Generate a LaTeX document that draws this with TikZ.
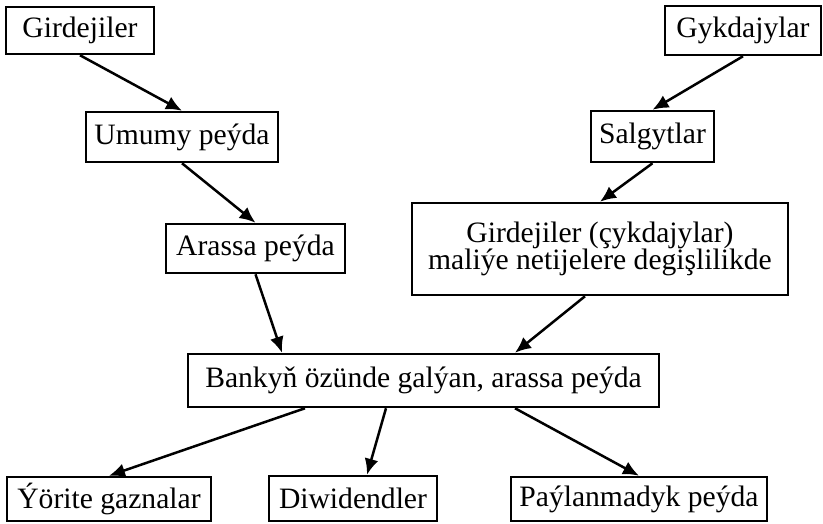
\documentclass[tikz,border=0pt]{standalone}
\usepackage{fontspec}
\setmainfont{Liberation Serif}
\usetikzlibrary{arrows.meta}

\begin{document}
\begin{tikzpicture}[x = 1pt, y = -1pt, line width = 2.5pt,
		box/.style = {draw, inner sep = 0pt, align = center, font = \fontsize{29.6}{27}\selectfont},
		arr/.style = {-{Latex[length = 16pt, width = 14pt]}}]
		\useasboundingbox (0,0) rectangle (823,523);
		% upper boxes
		\node[box, minimum width = 148pt, minimum height = 47pt] (gir) at (80,30.5) {Girdejiler};
		\node[box, minimum width = 156pt, minimum height = 49pt] (gyk) at (743,30.5) {Gykdajylar};
		\node[box, minimum width = 192pt, minimum height = 50pt] (umumy) at (182,137) {Umumy peýda};
		\node[box, minimum width = 123pt, minimum height = 51pt] (salg) at (652.5,136.5) {Salgytlar};
		\node[box, minimum width = 179pt, minimum height = 49pt] (arassa) at (255.5,248.5) {Arassa peýda};
		\node[box, minimum width = 376pt, minimum height = 92pt] (maliye) at (600,249) {Girdejiler (çykdajylar)\\maliýe netijelere degişlilikde};
		\node[box, minimum width = 471pt, minimum height = 53pt] (bank) at (423.5,380.5) {Bankyň özünde galýan, arassa peýda};
		% lower boxes
		\node[box, minimum width = 204pt, minimum height = 44pt] (yorite) at (109,499) {Ýörite gaznalar};
		\node[box, minimum width = 168pt, minimum height = 45pt] (diw) at (353,498.5) {Diwidendler};
		\node[box, minimum width = 256pt, minimum height = 44pt] (pay) at (639,499) {Paýlanmadyk peýda};
		% arrows
		\draw[arr] (gir.south) -- (umumy.north);
		\draw[arr] (umumy.south) -- (arassa.north);
		\draw[arr] (arassa.south) -- ([xshift = -141.5pt]bank.north);
		\draw[arr] (gyk.south) -- (salg.north);
		\draw[arr] (salg.south) -- (maliye.north);
		\draw[arr] ([xshift = -15pt]maliye.south) -- ([xshift = 91.5pt]bank.north);
		\draw[arr] ([xshift = -118.5pt]bank.south) -- (yorite.north);
		\draw[arr] ([xshift = -37.5pt]bank.south) -- ([xshift = 14pt]diw.north);
		\draw[arr] ([xshift = 91.5pt]bank.south) -- (pay.north);
	\end{tikzpicture}
\end{document}
